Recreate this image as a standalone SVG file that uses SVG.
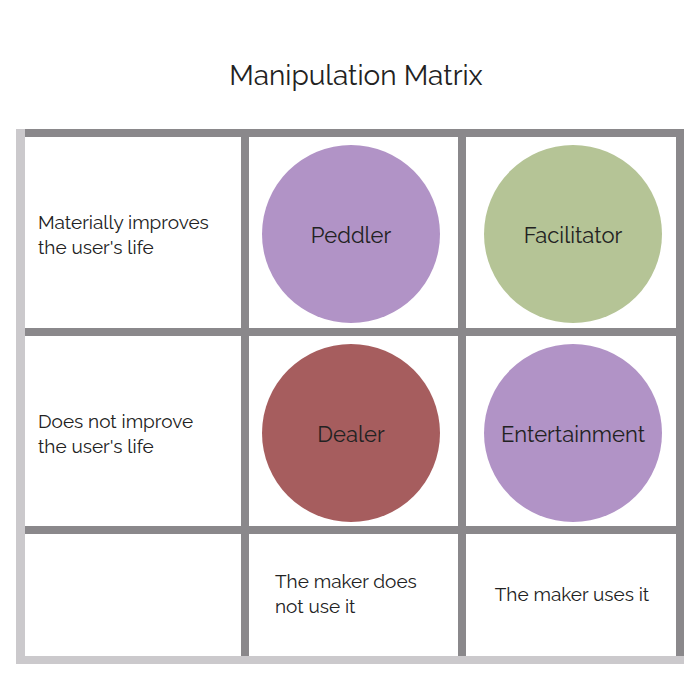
<svg xmlns="http://www.w3.org/2000/svg" width="700" height="700" viewBox="0 0 700 700">
<style>
.t{font-family:Raleway,"Open Sans","Liberation Sans",sans-serif;fill:#222}
.lbl{font-size:19px}
.c{font-size:22px;text-anchor:middle}
.dark{fill:#8a888b}
.light{fill:#cbc9cc}
</style>
<rect width="700" height="700" fill="#fff"/>
<text class="t" x="356" y="85" font-size="28" text-anchor="middle">Manipulation Matrix</text>
<g id="grid">
<rect class="light" x="16" y="129" width="9" height="535"/>
<rect class="light" x="16" y="656" width="668" height="8"/>
<rect class="dark" x="25" y="129" width="659" height="8"/>
<rect class="dark" x="25" y="328" width="659" height="8"/>
<rect class="dark" x="25" y="526" width="659" height="8"/>
<rect class="dark" x="241" y="129" width="8" height="527"/>
<rect class="dark" x="458" y="129" width="8" height="527"/>
<rect class="dark" x="676" y="129" width="8" height="527"/>
</g>
<g id="row1"><text class="t lbl" x="38" y="229">Materially improves</text><text class="t lbl" x="38" y="254">the user's life</text></g>
<g id="row2"><text class="t lbl" x="38" y="428">Does not improve</text><text class="t lbl" x="38" y="453">the user's life</text></g>
<g id="col1"><text class="t lbl" x="275" y="588">The maker does</text><text class="t lbl" x="275" y="613">not use it</text></g>
<g id="col2"><text class="t lbl" x="572" y="601" text-anchor="middle">The maker uses it</text></g>
<g id="peddler"><circle cx="351" cy="234" r="89" fill="#b193c6"/><text class="t c" x="351" y="243">Peddler</text></g>
<g id="facilitator"><circle cx="573" cy="234" r="89" fill="#b5c496"/><text class="t c" x="573" y="243">Facilitator</text></g>
<g id="dealer"><circle cx="351" cy="433" r="89" fill="#a65d5e"/><text class="t c" x="351" y="442">Dealer</text></g>
<g id="entertainment"><circle cx="573" cy="433" r="89" fill="#b193c6"/><text class="t c" x="573" y="442">Entertainment</text></g>
</svg>
